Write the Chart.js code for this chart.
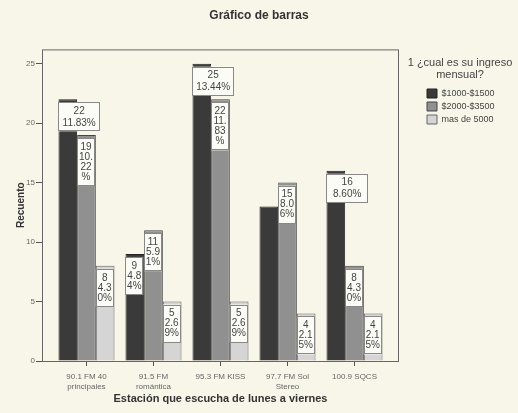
<!DOCTYPE html>
<html>
<head>
<meta charset="utf-8">
<script src="https://cdn.jsdelivr.net/npm/chart.js@4"></script>
<style>
  body { margin: 0; background: #f8f6e8; }
</style>
</head>
<body>
<canvas id="grafico" width="518" height="413"></canvas>
<script>
var estaciones = [['90.1 FM 40', 'principales'], ['91.5 FM', 'romántica'], '95.3 FM KISS', ['97.7 FM Sol', 'Stereo'], '100.9 SQCS'];
var ingresos = ['$1000-$1500', '$2000-$3500', 'mas de 5000'];
var ingreso1 = [22, 9, 25, 13, 16];
var ingreso2 = [19, 11, 22, 15, 8];
var ingreso3 = [8, 5, 5, 4, 4];
var ticksY = [0, 5, 10, 15, 20, 25];
var tituloLeyenda = ['1 ¿cual es su ingreso', 'mensual?'];
// la etiqueta de 97.7 / $1000-$1500 no aparece en el original
var sinEtiqueta = [[0, 3]];

var total = 0;
[ingreso1, ingreso2, ingreso3].forEach(function(s) { s.forEach(function(v) { total += v; }); });

Chart.defaults.font.family = '"Liberation Sans", Arial, sans-serif';
var margen = 0.164;

function partir(ctx, texto, maxAncho) {
    var out = [], linea = '';
    for (var i = 0; i < texto.length; i++) {
        var prueba = linea + texto[i];
        if (linea && ctx.measureText(prueba).width > maxAncho) {
            out.push(linea);
            linea = texto[i];
        } else {
            linea = prueba;
        }
    }
    if (linea) out.push(linea);
    return out;
}

var fondo = {
    id: 'fondo',
    beforeDraw: function(chart) {
        var ctx = chart.ctx;
        ctx.save();
        ctx.fillStyle = '#f8f6e8';
        ctx.fillRect(0, 0, chart.width, chart.height);
        ctx.restore();
    }
};

// la leyenda ocupa 119px a la derecha; los cuadros empiezan mas adentro
var leyendaPos = {
    id: 'leyendaPos',
    beforeInit: function(chart) {
        var lg = chart.legend;
        if (lg && !lg._ajustado) {
            var fit = lg.fit;
            lg.fit = function() {
                fit.call(this);
                this.width = 119;
            };
            lg._ajustado = true;
        }
    },
    afterLayout: function(chart) {
        var lg = chart.legend;
        lg.left = 423;
        lg.right = 518;
        lg.width = 95;
        lg.top = 85;
    },
    afterDraw: function(chart) {
        var ctx = chart.ctx;
        ctx.save();
        ctx.font = '11px "Liberation Sans", Arial, sans-serif';
        ctx.fillStyle = '#444';
        ctx.textAlign = 'center';
        ctx.textBaseline = 'middle';
        tituloLeyenda.forEach(function(t, k) {
            ctx.fillText(t, 460, 63 + k * 12);
        });
        ctx.restore();
    }
};

var marco = {
    id: 'marco',
    afterDatasetsDraw: function(chart) {
        var a = chart.chartArea, ctx = chart.ctx;
        ctx.save();
        ctx.strokeStyle = '#666';
        ctx.lineWidth = 1;
        ctx.strokeRect(a.left + 0.5, a.top + 0.5, a.right - a.left - 1, a.bottom - a.top);
        ctx.restore();
    }
};

var etiquetas = {
    id: 'etiquetas',
    afterDatasetsDraw: function(chart) {
        var ctx = chart.ctx;
        ctx.save();
        ctx.font = '10px "Liberation Sans", Arial, sans-serif';
        chart.data.datasets.forEach(function(ds, i) {
            chart.getDatasetMeta(i).data.forEach(function(bar, j) {
                if (sinEtiqueta.some(function(p) { return p[0] === i && p[1] === j; })) return;
                var v = ds.data[j];
                var pct = (v / total * 100).toFixed(2) + '%';
                var ancho = i === 0 && v > chart.data.datasets[1].data[j];
                var lineas, w, h, lh, x0;
                if (ancho) {
                    w = 42; lh = 12;
                    lineas = [String(v), pct];
                    h = 29;
                    x0 = bar.x + bar.width / 2 + 2 - w / 2;
                } else {
                    w = bar.width - 1; lh = 10;
                    lineas = [String(v)].concat(partir(ctx, pct, w - 2));
                    h = lineas.length * lh + 8;
                    x0 = bar.x - bar.width / 2;
                }
                var y0 = bar.y + 3;
                ctx.fillStyle = '#fcfcf7';
                ctx.fillRect(x0, y0, w, h);
                ctx.strokeStyle = '#888';
                ctx.lineWidth = 1;
                ctx.strokeRect(Math.round(x0) + 0.5, Math.round(y0) + 0.5, Math.round(w) - 1, h - 1);
                ctx.fillStyle = '#444';
                ctx.textAlign = 'center';
                ctx.textBaseline = 'middle';
                var inicio = y0 + (h - lineas.length * lh) / 2;
                lineas.forEach(function(t, k) {
                    ctx.fillText(t, x0 + w / 2, inicio + lh * (k + 0.5));
                });
            });
        });
        ctx.restore();
    }
};

new Chart(document.getElementById('grafico'), {
    type: 'bar',
    data: {
        labels: estaciones,
        datasets: [
            { label: ingresos[0], data: ingreso1, backgroundColor: '#3a3a3a', borderColor: '#222', borderWidth: 1 },
            { label: ingresos[1], data: ingreso2, backgroundColor: '#909090', borderColor: '#444', borderWidth: 1 },
            { label: ingresos[2], data: ingreso3, backgroundColor: '#d5d5d5', borderColor: '#666', borderWidth: 1 }
        ]
    },
    options: {
        responsive: false,
        animation: false,
        categoryPercentage: 0.836,
        barPercentage: 1,
        layout: { padding: 0 },
        plugins: {
            title: {
                display: true,
                text: 'Gráfico de barras',
                color: '#333',
                font: { size: 12, weight: 'bold' },
                padding: { top: 8, bottom: 27 }
            },
            legend: {
                position: 'right',
                align: 'start',
                labels: {
                    boxWidth: 10,
                    boxHeight: 9,
                    padding: 4,
                    color: '#444',
                    font: { size: 9 }
                }
            },
            tooltip: { enabled: false }
        },
        scales: {
            x: {
                offset: true,
                border: { display: false },
                grid: { display: true, drawOnChartArea: false, offset: false, tickLength: 5, color: '#555' },
                ticks: { color: '#666', font: { size: 8 }, padding: 6, maxRotation: 0, autoSkip: false },
                title: {
                    display: true,
                    text: 'Estación que escucha de lunes a viernes',
                    color: '#333',
                    font: { size: 11, weight: 'bold' },
                    padding: { top: 0, bottom: 7 }
                },
                afterBuildTicks: function(s) {
                    s._startValue -= margen;
                    s._valueRange += 2 * margen;
                },
                afterFit: function(s) { s.height = 52; }
            },
            y: {
                min: 0,
                max: 26.2,
                border: { display: false },
                grid: { display: true, drawOnChartArea: false, tickLength: 6, color: '#555' },
                ticks: { color: '#666', font: { size: 8 }, padding: 1 },
                title: {
                    display: true,
                    text: 'Recuento',
                    color: '#333',
                    font: { size: 10, weight: 'bold' },
                    padding: { top: 15, bottom: 0 }
                },
                afterBuildTicks: function(s) {
                    s.ticks = ticksY.map(function(v) { return { value: v }; });
                },
                afterFit: function(s) { s.width = 42; }
            }
        }
    },
    plugins: [fondo, leyendaPos, marco, etiquetas]
});
</script>
</body>
</html>
